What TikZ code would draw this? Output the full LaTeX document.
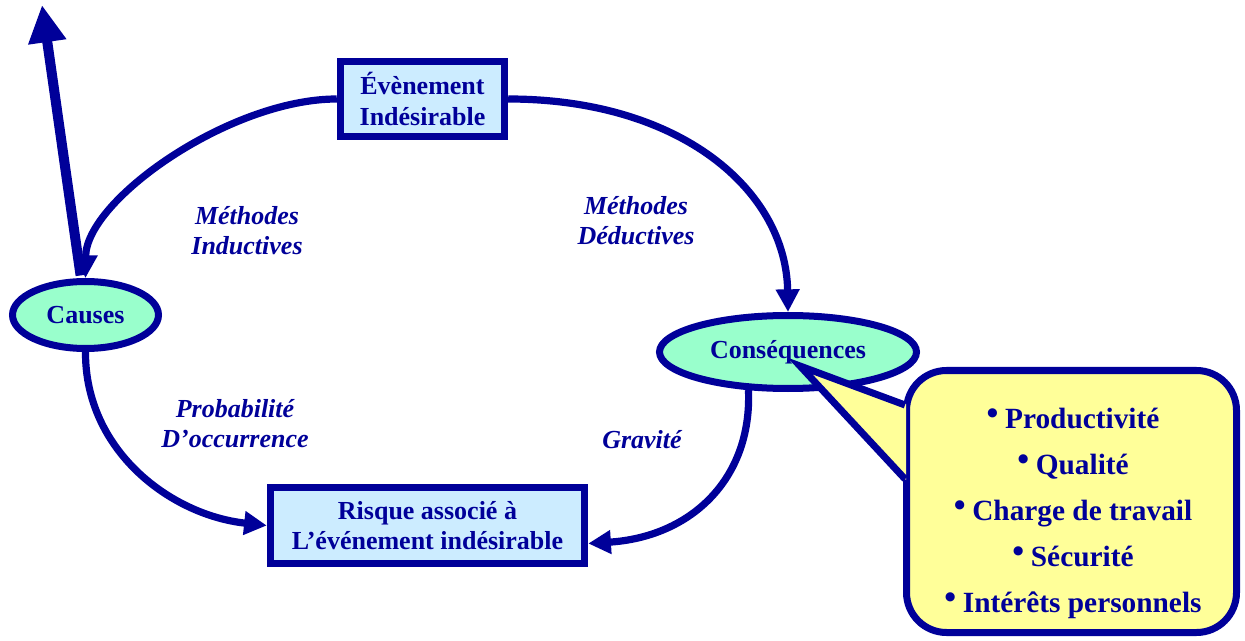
\documentclass[tikz,border=0pt]{standalone}
\usepackage{fontspec}
\usepackage{graphicx}
\setmainfont{Liberation Serif}
\usetikzlibrary{arrows.meta,shapes.geometric}
\definecolor{navy}{RGB}{0,0,153}
\definecolor{boxblue}{RGB}{204,236,255}
\definecolor{ovalgreen}{RGB}{153,255,204}
\definecolor{bubbleyellow}{RGB}{255,255,153}
% raised bullet for the list in the callout
\newcommand{\itembullet}{\raisebox{2.5pt}{\scalebox{1.15}{•}}\hspace{5pt}}
\begin{document}
\begin{tikzpicture}[x=0.75pt,y=-0.75pt,
  boxnode/.style={draw=navy, line width=5.6pt, fill=boxblue, text=navy,
    font=\bfseries\fontsize{19.5}{23}\selectfont, align=center, inner sep=0pt},
  ovalnode/.style={ellipse, draw=navy, line width=5.25pt, fill=ovalgreen, text=navy,
    font=\bfseries\fontsize{19.5}{23}\selectfont, inner sep=0pt},
  lbl/.style={text=navy, font=\bfseries\itshape\fontsize{19.5}{22.5}\selectfont, align=center},
  flow/.style={draw=navy, line width=5.4pt, -{Triangle[length=17pt,width=17pt]}},
  bigflow/.style={draw=navy, line width=7.5pt, -{Triangle[length=28pt,width=27pt]}},
  bubbleline/.style={draw=navy, line width=5.25pt},
  items/.style={text=navy, font=\bfseries\fontsize{22}{34.5}\selectfont, align=center}
]
\useasboundingbox (0,0) rectangle (1245,641);

% main blocks
\node[boxnode, minimum width=164*0.75pt, minimum height=75*0.75pt] (event) at (422.5,99)
  {Évènement\\Indésirable};
\node[ovalnode, minimum width=146*0.75pt, minimum height=67*0.75pt] (causes) at (85.5,315) {Causes};
\node[ovalnode, minimum width=257*0.75pt, minimum height=73*0.75pt] (conseq) at (788,352) {Conséquences};
\node[boxnode, minimum width=314*0.75pt, minimum height=76*0.75pt] (risk) at (427.5,525.5)
  {Risque associé à\\L’événement indésirable};

% labels on the arcs
\node[lbl] (ind) at (247,231) {Méthodes\\Inductives};
\node[lbl] (ded) at (636,221) {Méthodes\\Déductives};
\node[lbl] (proba) at (235,424) {Probabilité\\D’occurrence};
\node[lbl] (grav) at (642,440) {Gravité};

% thick upward arrow leaving the causes
\coordinate (up) at (42,5);
\draw[bigflow, shorten <=2pt] (causes.97) -- (up);

% the cycle
\draw[flow] (event.west) .. controls (230,99) and (86,200) .. (causes.north);
\draw[flow] (event.east) .. controls (680,99) and (786,190) .. (conseq.north);
\draw[flow] (causes.south) .. controls (85,450) and (170,515) .. (risk.west);
\draw[flow] (conseq.224) .. controls (752,480) and (690,537) .. ([yshift=-13.5pt]risk.east);

% callout listing the consequences
\coordinate (tip) at (800,366);
\node[draw=navy, line width=5.25pt, fill=bubbleyellow, rounded corners=30pt,
  minimum width=330*0.75pt, minimum height=262*0.75pt, inner sep=0pt] (bubble) at (1071.5,501.5) {};
\fill[bubbleyellow] (906,404) -- (tip) -- (906,480) -- cycle;
\draw[bubbleline, line join=miter] (905,405) -- (tip) -- (905,479);
\node[items] (list) at (1073,513)
  {\itembullet Productivité\\\itembullet Qualité\\\itembullet Charge de travail\\
   \itembullet Sécurité\\\itembullet Intérêts personnels};
\end{tikzpicture}
\end{document}
